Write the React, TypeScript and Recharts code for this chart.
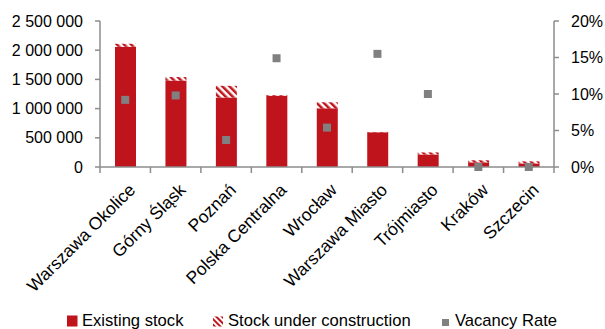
import { ComposedChart, Bar, Scatter, XAxis, YAxis, Legend } from "recharts";

const regions = [
  "Warszawa Okolice",
  "Górny Śląsk",
  "Poznań",
  "Polska Centralna",
  "Wrocław",
  "Warszawa Miasto",
  "Trójmiasto",
  "Kraków",
  "Szczecin",
];
const existingStock = [2060000, 1480000, 1190000, 1220000, 1005000, 595000, 215000, 80000, 62000];
const underConstruction = [50000, 60000, 200000, 12000, 103000, 5000, 35000, 35000, 35000];
const vacancyRate = [0.092, 0.098, 0.037, 0.149, 0.054, 0.155, 0.1, 0.0, 0.0];

const leftTicks = [0, 500000, 1000000, 1500000, 2000000, 2500000];
const rightTicks = [0, 0.05, 0.1, 0.15, 0.2];

const data = regions.map((name, i) => ({
  name,
  existing: existingStock[i],
  construction: underConstruction[i],
  vacancy: vacancyRate[i],
}));

const RED = "#C0141C";
const GREY_AXIS = "#8c8c8c";
const FONT = "'Liberation Sans', Arial, sans-serif";
const LABEL_GAP = 10;

const fmtThousands = (v: number) => v.toLocaleString("en-US").replace(/,/g, " ");
const fmtPct = (v: number) => `${Math.round(v * 100)}%`;

// label + tick marks on the category boundaries (like Excel)
function CategoryTick(props: any) {
  const { x, y, payload, index, visibleTicksCount, width } = props;
  const count = visibleTicksCount || regions.length;
  const half = payload.offset > 1 ? payload.offset : (Number(width) || 454) / count / 2;
  const axisY = y - LABEL_GAP;
  return (
    <g>
      <path d={`M${x - half},${axisY}v6`} stroke={GREY_AXIS} strokeWidth={1.5} fill="none" />
      {index === count - 1 && (
        <path d={`M${x + half},${axisY}v6`} stroke={GREY_AXIS} strokeWidth={1.5} fill="none" />
      )}
      <g transform={`translate(${x + 2},${axisY + 15})`}>
        <text
          transform="rotate(-45)"
          textAnchor="end"
          dominantBaseline="hanging"
          fontSize={17.5}
          fill="#000"
          fontFamily={FONT}
        >
          {payload.value}
        </text>
      </g>
    </g>
  );
}

function LegendContent() {
  const txt = (x: number, label: string) => (
    <text x={x} y={326} fontSize={16.6} fill="#000" fontFamily={FONT}>
      {label}
    </text>
  );
  return (
    <svg width={605} height={30} style={{ display: "block" }} viewBox="0 299 605 30">
      <defs>
        <pattern id="hatchLegend" patternUnits="userSpaceOnUse" width={4} height={4} patternTransform="rotate(-45)">
          <rect width={4} height={4} fill="#fff" />
          <rect width={2} height={4} fill={RED} />
        </pattern>
      </defs>
      <rect x={67} y={315.5} width={10.5} height={11} fill={RED} />
      {txt(82, "Existing stock")}
      <rect x={213} y={316.5} width={10} height={10} fill="url(#hatchLegend)" />
      {txt(228, "Stock under construction")}
      <rect x={442} y={319} width={7} height={7} fill="#808080" />
      {txt(455, "Vacancy Rate")}
    </svg>
  );
}

export default function App() {
  return (
    <div style={{ position: "absolute", left: 0, top: 0, width: 605, height: 329, background: "#fff" }}>
      <ComposedChart
        width={605}
        height={329}
        data={data}
        margin={{ top: 21, right: 0, left: 0, bottom: 0 }}
        barSize={21}
      >
        <defs>
          <pattern id="hatch" patternUnits="userSpaceOnUse" width={5} height={5} patternTransform="rotate(-45)">
            <rect width={5} height={5} fill="#fff" />
            <rect width={2.5} height={5} fill={RED} />
          </pattern>
        </defs>
        <XAxis
          xAxisId="cat"
          dataKey="name"
          interval={0}
          axisLine={{ stroke: GREY_AXIS, strokeWidth: 1.5 }}
          tickLine={false}
          tickSize={0}
          tickMargin={LABEL_GAP}
          height={132}
          tick={<CategoryTick />}
        />
        <YAxis
          yAxisId="left"
          domain={[0, 2500000]}
          ticks={leftTicks}
          tickFormatter={fmtThousands}
          width={100}
          axisLine={{ stroke: GREY_AXIS, strokeWidth: 1.5 }}
          tickLine={{ stroke: GREY_AXIS, strokeWidth: 1.5 }}
          tickSize={5}
          tickMargin={12}
          tick={{ fill: "#000", fontSize: 16, fontFamily: FONT }}
        />
        <YAxis
          yAxisId="right"
          orientation="right"
          domain={[0, 0.2]}
          ticks={rightTicks}
          tickFormatter={fmtPct}
          width={51}
          axisLine={{ stroke: GREY_AXIS, strokeWidth: 1.5 }}
          tickLine={{ stroke: GREY_AXIS, strokeWidth: 1.5 }}
          tickSize={5}
          tickMargin={12}
          tick={{ fill: "#000", fontSize: 16, fontFamily: FONT, textAnchor: "start" }}
        />
        <Bar
          xAxisId="cat"
          yAxisId="left"
          dataKey="existing"
          stackId="s"
          fill={RED}
          isAnimationActive={false}
        />
        <Bar
          xAxisId="cat"
          yAxisId="left"
          dataKey="construction"
          stackId="s"
          fill="url(#hatch)"
          isAnimationActive={false}
        />
        <Scatter
          xAxisId="cat"
          yAxisId="right"
          dataKey="vacancy"
          fill="#808080"
          shape="square"
          isAnimationActive={false}
        />
        <Legend verticalAlign="bottom" height={30} content={<LegendContent />} />
      </ComposedChart>
    </div>
  );
}
